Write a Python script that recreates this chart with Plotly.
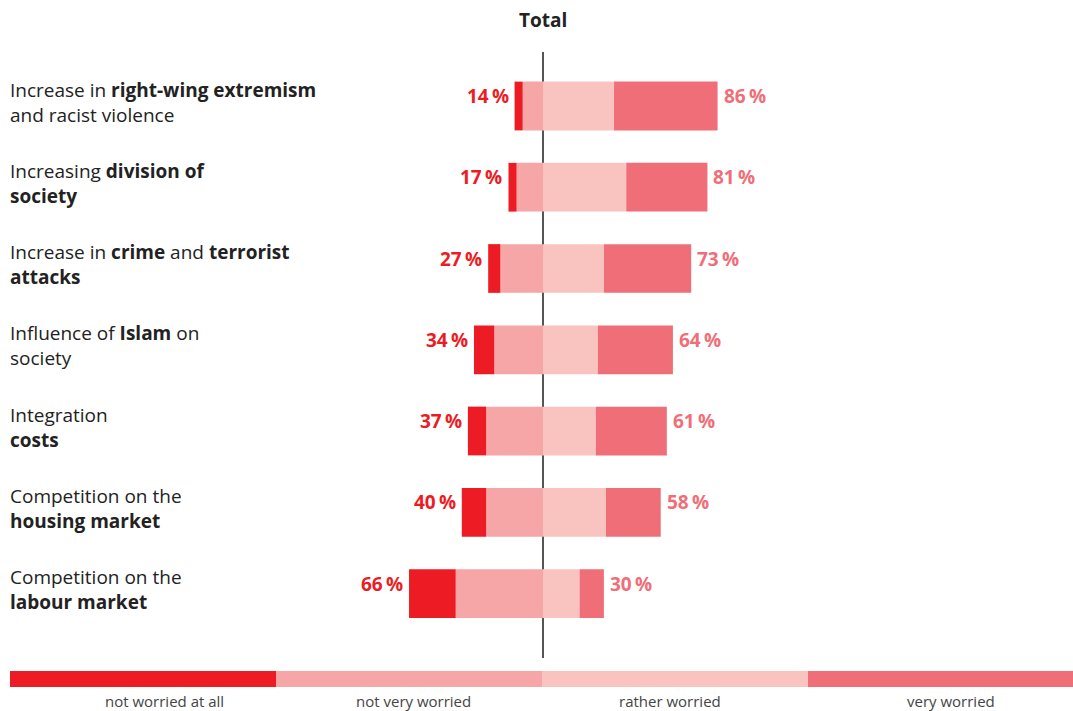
import plotly.graph_objects as go

categories = [
    "Increase in <b>right-wing extremism</b><br>and racist violence",
    "Increasing <b>division of</b><br><b>society</b>",
    "Increase in <b>crime</b> and <b>terrorist</b><br><b>attacks</b>",
    "Influence of <b>Islam</b> on<br>society",
    "Integration<br><b>costs</b>",
    "Competition on the<br><b>housing market</b>",
    "Competition on the<br><b>labour market</b>",
]
not_at_all = [4, 4, 6, 10, 9, 12, 23]
not_very = [10, 13, 21, 24, 28, 28, 43]
rather = [35, 41, 30, 27, 26, 31, 18]
very = [51, 40, 43, 37, 35, 27, 12]
left_totals = [14, 17, 27, 34, 37, 40, 66]
right_totals = [86, 81, 73, 64, 61, 58, 30]
series_names = ["not worried at all", "not very worried", "rather worried", "very worried"]
colors = ["#ED1C24", "#F6A6A6", "#F9C4C0", "#F06E78"]

W, H = 1073, 711
FONT = "Open Sans"
ypos = list(range(len(categories)))

fig = go.Figure()
fig.add_bar(y=ypos, x=[-v for v in not_very], orientation="h", marker_color=colors[1],
            marker_line_width=0, width=0.6, name=series_names[1])
fig.add_bar(y=ypos, x=[-v for v in not_at_all], orientation="h", marker_color=colors[0],
            marker_line_width=0, width=0.6, name=series_names[0])
fig.add_bar(y=ypos, x=rather, orientation="h", marker_color=colors[2],
            marker_line_width=0, width=0.6, name=series_names[2])
fig.add_bar(y=ypos, x=very, orientation="h", marker_color=colors[3],
            marker_line_width=0, width=0.6, name=series_names[3])

ann = []
for i in ypos:
    ann.append(dict(x=-left_totals[i], y=i, xref="x", yref="y", text=f"<b>{left_totals[i]}\u2009%</b>",
                    xanchor="right", yanchor="middle", xshift=-4, yshift=10, showarrow=False,
                    font=dict(family=FONT, size=19, color=colors[0])))
    ann.append(dict(x=right_totals[i], y=i, xref="x", yref="y", text=f"<b>{right_totals[i]}\u2009%</b>",
                    xanchor="left", yanchor="middle", xshift=4, yshift=10, showarrow=False,
                    font=dict(family=FONT, size=19, color=colors[3])))
    ann.append(dict(x=10 / W, y=i, xref="paper", yref="y", text=categories[i], align="left",
                    xanchor="left", yanchor="middle", xshift=-1, yshift=4, showarrow=False,
                    borderpad=0, font=dict(family=FONT, size=19, color="#222222")))

ann.append(dict(x=543 / W, y=1 - 20 / H, xref="paper", yref="paper", text="<b>Total</b>",
                xanchor="center", yanchor="middle", showarrow=False,
                font=dict(family=FONT, size=19, color="#222222")))

shapes = [dict(type="line", xref="x", yref="paper", x0=0, x1=0, y0=1 - 52 / H, y1=1 - 658 / H,
               line=dict(color="#555555", width=2), layer="below")]

leg_x = [10, 276, 542, 808, 1073]
leg_text_x = [164, 413, 670, 951]
for k in range(4):
    shapes.append(dict(type="rect", xref="paper", yref="paper", x0=leg_x[k] / W, x1=leg_x[k + 1] / W,
                       y0=1 - 687 / H, y1=1 - 671 / H, fillcolor=colors[k], line_width=0))
    ann.append(dict(x=leg_text_x[k] / W, y=1 - 701 / H, xref="paper", yref="paper", text=series_names[k],
                    xanchor="center", yanchor="middle", showarrow=False, borderpad=0,
                    font=dict(family=FONT, size=15, color="#444444")))

c = 543
s = 2.03
fig.update_layout(
    width=W, height=H, barmode="relative", showlegend=False,
    margin=dict(l=0, r=0, t=0, b=0),
    paper_bgcolor="white", plot_bgcolor="white",
    xaxis=dict(range=[-c / s, (W - c) / s], visible=False, fixedrange=True),
    yaxis=dict(range=[(H - 106) / 81.25, -106 / 81.25], visible=False, fixedrange=True),
    annotations=ann, shapes=shapes, hovermode=False,
)
fig.write_html("out.html")
